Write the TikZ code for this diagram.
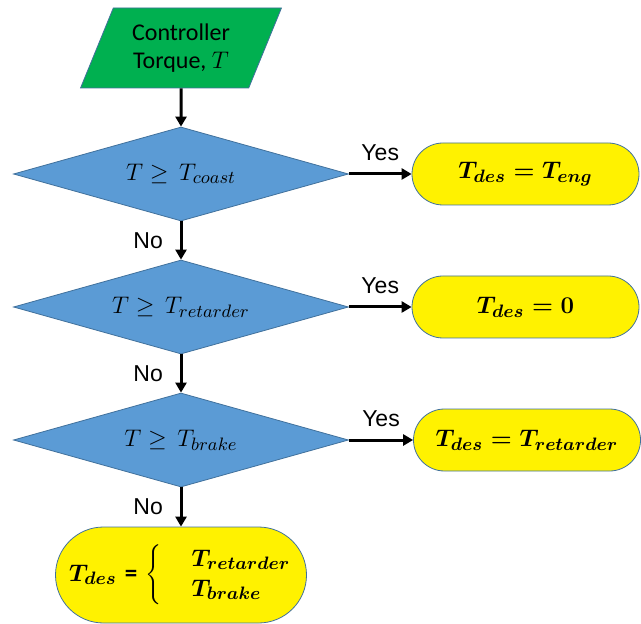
\documentclass[tikz,border=0pt]{standalone}
\usepackage{fontspec}
\newfontfamily\calibri{Carlito}
\newfontfamily\arial{Liberation Sans}
\usetikzlibrary{shapes.geometric,arrows.meta}
\definecolor{ctrlgreen}{HTML}{00B050}
\definecolor{decblue}{HTML}{5B9BD5}
\definecolor{edgeblue}{HTML}{41719C}
\tikzset{
  io/.style={trapezium, trapezium left angle=64, trapezium right angle=116,
    trapezium stretches=true, minimum width=101pt, minimum height=40pt,
    inner sep=0pt, fill=ctrlgreen, draw=edgeblue, align=center,
    font=\calibri\fontsize{12}{14}\selectfont},
  decide/.style={diamond, aspect=3.56, minimum width=167.5pt, minimum height=47pt,
    inner sep=0pt, fill=decblue, draw=edgeblue,
    font=\fontsize{12.5}{15}\selectfont},
  result/.style={rectangle, rounded corners=15.5pt, minimum width=113.5pt,
    minimum height=31pt, inner sep=0pt, fill=yellow, draw=edgeblue,
    font=\fontsize{12.5}{15}\selectfont\boldmath},
  flow/.style={line width=1.5pt, -{Triangle[length=5pt,width=5.5pt]}},
  answer/.style={font=\arial\fontsize{11.5}{13}\selectfont}
}
\begin{document}
\begin{tikzpicture}[x=0.5pt,y=-0.5pt]
  \useasboundingbox (0,0) rectangle (641,624);

  \node[io] (input) at (181,48) {Controller\\Torque, $T$};

  \node[decide] (coast) at (181,174) {$T \geq\, T_{coast}$};
  \node[decide] (retard) at (181,307) {$T \geq\, T_{retarder}$};
  \node[decide] (brake) at (181,440) {$T \geq\, T_{brake}$};

  \node[result] (eng) at (525.5,174) {$T_{des} = T_{eng}$};
  \node[result] (zero) at (525.5,307) {$T_{des} = 0$};
  \node[result] (ret) at (527,440) {$T_{des} = T_{retarder}$};
  \node[result, minimum width=125.5pt, minimum height=48pt,
    rounded corners=24pt] (both) at (181,575)
    {$T_{des}$ {\calibri\bfseries =} $\left\{\hspace{1.2em}\begin{array}{@{}l@{}}
      T_{retarder}\\ T_{brake}\end{array}\right.$};

  \draw[flow] (input) -- (coast);
  \draw[flow] (coast) -- node[answer, left=5pt] {No} (retard);
  \draw[flow] (retard) -- node[answer, left=5pt] {No} (brake);
  \draw[flow] (brake) -- node[answer, left=5pt] {No} (both);

  \draw[flow] (coast) -- node[answer, above=2.5pt] {Yes} (eng);
  \draw[flow] (retard) -- node[answer, above=2.5pt] {Yes} (zero);
  \draw[flow] (brake) -- node[answer, above=2.5pt] {Yes} (ret);
\end{tikzpicture}
\end{document}
